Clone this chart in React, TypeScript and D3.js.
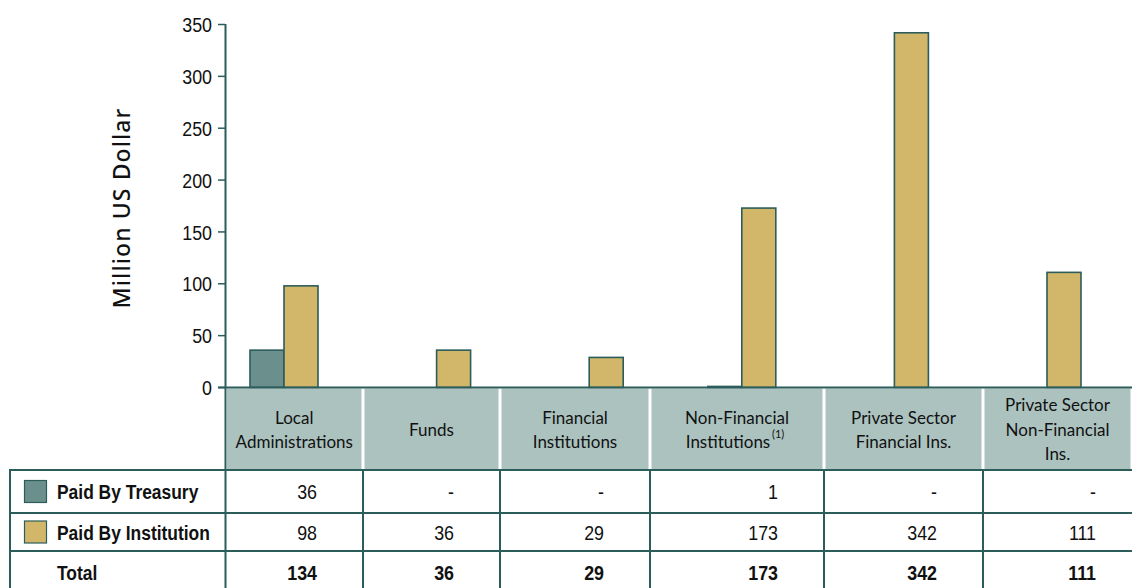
import React from "react";
import * as d3 from "d3";

const categories = [
  ["Local", "Administrations"],
  ["Funds"],
  ["Financial", "Institutions"],
  ["Non-Financial", "Institutions"],
  ["Private Sector", "Financial Ins."],
  ["Private Sector", "Non-Financial", "Ins."],
];
const catKeys = categories.map((c) => c.join(" "));
const seriesNames = ["Paid By Treasury", "Paid By Institution"];
const treasury = [36, 0, 0, 1, 0, 0];
const institution = [98, 36, 29, 173, 342, 111];
const treasuryLabels = ["36", "-", "-", "1", "-", "-"];
const institutionLabels = ["98", "36", "29", "173", "342", "111"];
const totalLabels = ["134", "36", "29", "173", "342", "111"];
const yTicks = [0, 50, 100, 150, 200, 250, 300, 350];

const W = 1132;
const H = 588;
const DARK = "#2b5d5a";
const TREAS = "#6b8f8c";
const INST = "#d2b76a";
const HEAD = "#abc2bf";
const NUMFONT = "'Liberation Sans', Arial, sans-serif";
const HFONT = "Lato, 'Open Sans', sans-serif";
const TFONT = "'Noto Sans', 'Open Sans', sans-serif";

// table layout
const colEdges = [225.5, 363, 500, 650, 824, 983, 1142];
const rowEdges = [470, 513, 551, 588];
const rowCenters = [491.5, 532, 572];

function Narrow(props: {
  x: number;
  y: number;
  anchor?: string;
  bold?: boolean;
  size?: number;
  sx?: number;
  children: React.ReactNode;
}) {
  const { x, y, anchor = "start", bold = false, size = 21, sx = 0.85, children } = props;
  return (
    <text
      transform={`translate(${x},${y}) scale(${sx},1)`}
      dy="0.36em"
      textAnchor={anchor}
      fontFamily={NUMFONT}
      fontSize={size}
      fontWeight={bold ? 700 : 400}
      fill="#111"
    >
      {children}
    </text>
  );
}

export default function App() {
  const y = d3.scaleLinear().domain([0, 350]).range([387.5, 24.5]);
  const x = d3.scaleBand().domain(catKeys).range([207.7, 1123.3]);
  const barW = 34;
  const xs = d3.scaleBand().domain(seriesNames).range([-barW, barW]);
  const values = [treasury, institution];
  const fills = [TREAS, INST];
  const rowLabels = [treasuryLabels, institutionLabels, totalLabels];

  return (
    <svg width={W} height={H} style={{ position: "absolute", left: 0, top: 0 }}>
      <rect x={0} y={0} width={W} height={H} fill="#fff" />
      {/* y title */}
      <text
        transform={`translate(130,208) rotate(-90)`}
        textAnchor="middle"
        fontFamily={TFONT}
        fontSize={23}
        fontWeight={500}
        letterSpacing={1.1}
        fill="#111"
      >
        Million US Dollar
      </text>
      {/* ticks */}
      {yTicks.map((t) => (
        <g key={t}>
          <line x1={218} x2={225} y1={y(t)} y2={y(t)} stroke={DARK} strokeWidth={1.5} />
          <Narrow x={212} y={y(t)} anchor="end">
            {t}
          </Narrow>
        </g>
      ))}
      {/* bars */}
      {catKeys.map((c, i) => {
        const cx = (x(c) as number) + x.bandwidth() / 2;
        return values.map((vals, s) =>
          vals[i] > 0 ? (
            <rect
              key={c + s}
              x={cx + (xs(seriesNames[s]) as number)}
              y={y(vals[i])}
              width={xs.bandwidth()}
              height={y(0) - y(vals[i])}
              fill={fills[s]}
              stroke={DARK}
              strokeWidth={1.6}
            />
          ) : null
        );
      })}
      {/* header cells */}
      {categories.map((lines, i) => {
        const right = Math.min(colEdges[i + 1], 1132);
        const x0 = colEdges[i] + 1.5;
        const x1 = right - 1.5;
        const cx = (colEdges[i] + right) / 2;
        const lh = 24.5;
        const midY = 430;
        const startY = midY - ((lines.length - 1) * lh) / 2;
        return (
          <g key={i}>
            <rect x={x0} y={388.5} width={x1 - x0} height={80.5} fill={HEAD} />
            <text textAnchor="middle" fontFamily={HFONT} fontSize={17} fill="#111">
              {lines.map((l, k) => (
                <tspan
                  key={k}
                  x={i === 3 && k === 1 ? cx - 9 : cx}
                  y={startY + k * lh}
                  dy="0.35em"
                >
                  {l}
                </tspan>
              ))}
            </text>
            {i === 3 ? (
              <text
                x={cx + 35}
                y={startY + lh - 4}
                fontFamily={HFONT}
                fontSize={11}
                fill="#111"
              >
                (1)
              </text>
            ) : null}
          </g>
        );
      })}
      {/* baseline */}
      <line x1={218} x2={W} y1={387.5} y2={387.5} stroke={DARK} strokeWidth={2} />
      {/* y axis line continues down */}
      <line x1={225.5} x2={225.5} y1={24} y2={H} stroke={DARK} strokeWidth={2} />
      {/* table lines */}
      {rowEdges.slice(0, 3).map((r) => (
        <line key={r} x1={9} x2={W} y1={r} y2={r} stroke={DARK} strokeWidth={2} />
      ))}
      <line x1={10} x2={10} y1={469} y2={H} stroke={DARK} strokeWidth={2} />
      {colEdges.slice(1, 6).map((e) => (
        <line key={e} x1={e} x2={e} y1={470} y2={H} stroke={DARK} strokeWidth={2} />
      ))}
      {/* legend + values */}
      {[0, 1, 2].map((r) => {
        const cy = rowCenters[r];
        const label = r < 2 ? seriesNames[r] : "Total";
        return (
          <g key={r}>
            {r < 2 ? (
              <rect
                x={24.5}
                y={cy - 11}
                width={22}
                height={22}
                fill={fills[r]}
                stroke={DARK}
                strokeWidth={1.2}
              />
            ) : null}
            <Narrow x={57} y={cy} bold sx={0.83}>
              {label}
            </Narrow>
            {rowLabels[r].map((v, i) => (
              <Narrow key={i} x={colEdges[i + 1] - 46} y={cy} anchor="end" bold={r === 2}>
                {v}
              </Narrow>
            ))}
          </g>
        );
      })}
    </svg>
  );
}
